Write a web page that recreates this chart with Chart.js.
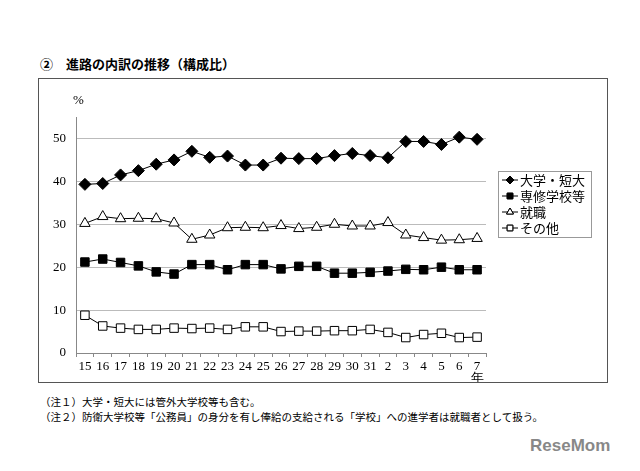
<!DOCTYPE html>
<html><head><meta charset="utf-8">
<script src="https://cdn.jsdelivr.net/npm/chart.js@4"></script>
<style>
body{margin:0;width:640px;height:471px;background:#fff;position:relative;font-family:"Liberation Serif","Noto Sans CJK JP",serif;overflow:hidden}
#title{position:absolute;left:40px;top:54px;font-size:13px;font-family:"Noto Sans CJK JP";font-weight:bold}
#box{position:absolute;left:38px;top:78px;width:570px;height:305px;border:1px solid #555;box-sizing:border-box}
#notes{position:absolute;left:40px;top:394px;font-size:10.5px;line-height:15px;font-family:"Noto Sans CJK JP"}
#logo{position:absolute;left:530px;top:436px;font-size:17px;font-weight:bold;color:#888;font-family:"Liberation Sans"}
</style></head><body>
<div id="title">②　進路の内訳の推移（構成比）</div>
<div id="box"><canvas id="c" width="568" height="303"></canvas></div>
<div id="notes">（注１）大学・短大には管外大学校等も含む。<br>（注２）防衛大学校等「公務員」の身分を有し俸給の支給される「学校」への進学者は就職者として扱う。</div>
<div id="logo">ReseMom</div>
<script>
const categories=['15','16','17','18','19','20','21','22','23','24','25','26','27','28','29','30','31','2','3','4','5','6',['7','年']];
const univ=[39.3,39.5,41.5,42.5,44,45,47,45.6,45.9,43.8,43.8,45.4,45.3,45.3,46,46.5,46,45.5,49.3,49.3,48.6,50.3,49.8];
const senshu=[21.2,21.9,21.1,20.3,18.9,18.4,20.6,20.6,19.4,20.6,20.6,19.6,20.2,20.2,18.6,18.6,18.8,19.1,19.5,19.4,20.0,19.4,19.4];
const shushoku=[30.2,31.8,31.3,31.4,31.3,30.3,26.5,27.5,29.2,29.3,29.2,29.7,29.0,29.3,30.0,29.6,29.6,30.4,27.5,26.9,26.3,26.4,26.7];
const other=[8.8,6.3,5.8,5.5,5.5,5.8,5.7,5.8,5.5,6.1,6.1,5.0,5.1,5.1,5.2,5.2,5.5,4.8,3.6,4.3,4.6,3.6,3.7];
const names=['大学・短大','専修学校等','就職','その他'];
const ds=[
 {label:names[0],data:univ,pointStyle:'rectRot',pointRadius:6,backgroundColor:'#000'},
 {label:names[1],data:senshu,pointStyle:'rect',pointRadius:6,backgroundColor:'#000'},
 {label:names[2],data:shushoku,pointStyle:'triangle',pointRadius:6,backgroundColor:'#fff'},
 {label:names[3],data:other,pointStyle:'rect',pointRadius:6,backgroundColor:'#fff'}
].map(d=>Object.assign(d,{borderColor:'#000',borderWidth:1,pointBorderColor:'#000',pointBackgroundColor:d.backgroundColor,pointBorderWidth:1}));
const legendPlugin={id:'lg',afterDraw(ch){
 const c=ch.ctx;const x=459,y=92,w=93,h=66;
 c.save();c.strokeStyle='#999';c.lineWidth=1;c.strokeRect(x+.5,y+.5,w,h);
 c.font='13px "Noto Sans CJK JP"';c.textBaseline='middle';c.fillStyle='#000';
 ch.data.datasets.forEach((d,i)=>{const yy=y+9+i*16;
  c.strokeStyle='#000';c.beginPath();c.moveTo(x+4,yy);c.lineTo(x+20,yy);c.stroke();
  Chart.helpers.drawPoint(c,{pointStyle:d.pointStyle,radius:4,borderWidth:1,rotation:0},x+12,yy);
  c.fillStyle=d.pointBackgroundColor;c.fill();c.stroke();
  c.fillStyle='#000';c.fillText(d.label,x+22,yy);});
 c.font='13px "Liberation Serif"';c.fillText('%',ch.chartArea.left-3,22);
 c.restore();}};
new Chart(document.getElementById('c'),{type:'line',data:{labels:categories,datasets:ds},
 plugins:[legendPlugin],
 options:{responsive:false,animation:false,
  layout:{padding:{top:38,right:121,left:0,bottom:0}},
  plugins:{legend:{display:false},tooltip:{enabled:false}},
  scales:{
   y:{min:0,max:55,afterBuildTicks:s=>{s.ticks=[0,10,20,30,40,50].map(v=>({value:v}));},
      afterFit:s=>{s.width=37;},
      grid:{color:'#bbb',drawTicks:false},border:{color:'#888'},
      ticks:{padding:10,color:'#000',font:{family:'Liberation Serif',size:13}}},
   x:{offset:true,afterFit:s=>{s.height=29;},grid:{drawOnChartArea:false,tickLength:4,color:'#888',offset:true},border:{color:'#888'},
      ticks:{color:'#000',maxRotation:0,autoSkip:false,padding:3,font:{family:'Liberation Serif',size:13,lineHeight:0.95}}}
  }}});
</script></body></html>
